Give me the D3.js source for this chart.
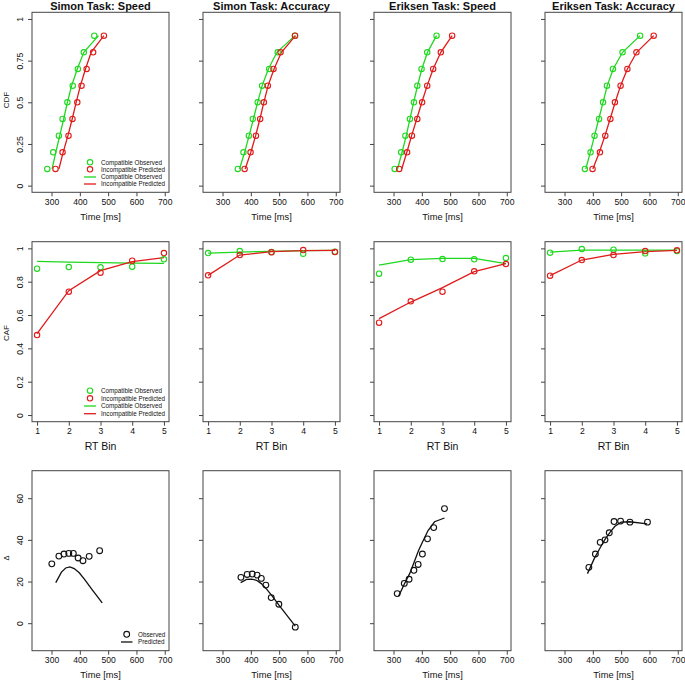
<!DOCTYPE html>
<html><head><meta charset="utf-8">
<script src="https://cdn.jsdelivr.net/npm/d3@7"></script>
<style>
body{margin:0;background:#fff;}
text{font-family:"Liberation Sans",Arial,Helvetica,sans-serif;fill:#111;}
</style>
</head><body><svg id="c" width="685" height="682"></svg>
<script>
// ---------------- data ----------------
const titles = ["Simon Task: Speed","Simon Task: Accuracy","Eriksen Task: Speed","Eriksen Task: Accuracy"];
const quantiles = [0.1,0.2,0.3,0.4,0.5,0.6,0.7,0.8,0.9];
const timeTicks = [300,400,500,600,700];
const cdfTicks = [0,0.25,0.5,0.75,1];
const cdfTickLabels = ["0","0.25","0.5","0.75","1"];
const cafTicks = [0,0.2,0.4,0.6,0.8,1];
const cafTickLabels = ["0","0.2","0.4","0.6","0.8","1"];
const rtBins = [1,2,3,4,5];
const deltaTicks = [0,20,40,60];

// CDF: RT (ms) at each quantile
const cdfCompObs = [
  [285,306,326,339,356,375,393,414,451],
  [354,374,393,407,424,440,465,495,556],
  [304,327,342,358,372,384,399,419,452],
  [372,392,406,422,436,450,471,505,567]
];
const cdfIncObs = [
  [314,339,360,374,391,406,424,447,485],
  [378,399,418,433,446,460,480,505,556],
  [320,348,365,384,401,419,440,467,507],
  [399,425,444,462,478,498,522,554,615]
];
const cdfCompPred = [
  [302,315,329,343,356,371,391,414,466],
  [360,378,394,409,424,440,462,492,556],
  [314,330,345,358,371,385,400,420,452],
  [375,391,406,421,436,451,472,505,567]
];
const cdfIncPred = [
  [326,341,358,373,387,402,420,440,485],
  [380,400,417,432,446,461,482,508,558],
  [329,347,364,382,400,419,440,467,507],
  [400,423,443,461,479,498,522,555,615]
];

// CAF: proportion correct per RT bin
const cafCompObs = [
  [0.878,0.888,0.886,0.890,0.934],
  [0.972,0.984,0.978,0.968,0.980],
  [0.848,0.932,0.936,0.934,0.942],
  [0.974,0.996,0.992,0.970,0.984]
];
const cafIncObs = [
  [0.480,0.740,0.854,0.926,0.972],
  [0.838,0.960,0.976,0.990,0.978],
  [0.554,0.682,0.740,0.862,0.906],
  [0.836,0.930,0.960,0.984,0.988]
];
const cafCompPred = [
  [0.922,0.918,0.915,0.912,0.910],
  [0.972,0.978,0.982,0.986,0.988],
  [0.900,0.932,0.940,0.940,0.908],
  [0.978,0.990,0.990,0.990,0.990]
];
const cafIncPred = [
  [0.488,0.746,0.866,0.920,0.944],
  [0.838,0.960,0.980,0.986,0.988],
  [0.578,0.678,0.764,0.860,0.908],
  [0.836,0.930,0.964,0.980,0.988]
];

// Delta plots: mean RT (ms) and effect (ms)
const deltaObsTime = [
  [301,326,344,361,377,394,411,433,470],
  [365,387,405,422,437,453,472,499,557],
  [313,338,355,372,387,402,420,442,480],
  [386,409,426,443,458,475,498,531,593]
];
const deltaObsEffect = [
  [28.5,32.2,33.2,33.5,33.5,31.3,30.0,32.1,34.8],
  [22.0,23.4,23.6,23.1,21.5,18.3,12.3,9.1,-1.9],
  [14.2,19.1,21.1,25.4,28.2,33.2,40.5,45.9,55.0],
  [26.8,33.2,38.8,40.0,43.4,48.8,49.0,48.5,48.5]
];
const deltaPredTime = [
  [315,335,350,365,380,398,418,442,479],
  [364,385,403,420,437,455,475,500,557],
  [318,340,357,372,388,404,422,445,480],
  [381,405,425,443,460,478,500,530,592]
];
const deltaPredEffect = [
  [19.5,24.5,26.5,27.0,26.2,24.2,20.8,16.4,9.8],
  [19.5,21.0,21.2,20.6,19.0,16.5,13.1,8.6,-1.4],
  [13.0,19.3,23.8,29.0,34.8,39.5,44.5,48.7,50.5],
  [23.8,31.0,36.0,40.2,43.5,46.5,48.5,48.7,47.7]
];

const legendCdfPoints = ["Compatible Observed","Incompatible Predicted"];
const legendCdfLines = ["Compatible Observed","Incompatible Predicted"];
const legendDelta = ["Observed","Predicted"];

// ---------------- layout ----------------
const GREEN = "#1ed81e", RED = "#e01a1a", BOX = "#444";
const svg = d3.select("#c");
const colLeft = i => 32 + i*171;
const panelW = 137, panelH = 180;
const rowTop = [12.3, 241.7, 470.7];
const R = 2.7;

function xTimeScale(i){ return d3.scaleLinear().domain([231,715]).range([colLeft(i), colLeft(i)+panelW]); }

function frame(i, row, x, y, xTicks, xFmt, yTicks, yLabels, xTitle, xTitleSize, xTitleOff){
  const g = svg.append("g");
  const top = rowTop[row], bottom = top + panelH, left = colLeft(i);
  // x axis
  const xa = g.append("g").attr("transform",`translate(0,${bottom})`)
    .call(d3.axisBottom(x).tickValues(xTicks).tickFormat(xFmt).tickSize(4).tickPadding(2.5));
  xa.select(".domain").remove();
  xa.selectAll("line").attr("stroke",BOX);
  xa.selectAll("text").attr("font-size","8.6px").attr("font-family","Liberation Sans, Arial, sans-serif").attr("fill","#111");
  // y axis
  const ya = g.append("g").attr("transform",`translate(${left},0)`)
    .call(d3.axisLeft(y).tickValues(yTicks).tickSize(4).tickFormat((d,k)=> yLabels ? yLabels[k] : ""));
  ya.select(".domain").remove();
  ya.selectAll("line").attr("stroke",BOX);
  ya.selectAll("text").attr("x",null).attr("dy",null)
    .attr("transform","translate(-8.6,0) rotate(-90)").attr("text-anchor","middle")
    .attr("font-size","8.6px").attr("font-family","Liberation Sans, Arial, sans-serif").attr("fill","#111");
  // box
  g.append("rect").attr("x",left).attr("y",top).attr("width",panelW).attr("height",panelH)
    .attr("fill","none").attr("stroke",BOX).attr("stroke-width",1);
  // x title
  g.append("text").attr("x",left+panelW/2).attr("y",bottom+xTitleOff).attr("text-anchor","middle")
    .attr("font-size",xTitleSize).text(xTitle);
}

function series(xs, ys, x, y, color, isLine){
  const pts = xs.map((v,k)=>[v, ys[k]]);
  if(isLine){
    svg.append("path").datum(pts).attr("fill","none").attr("stroke",color).attr("stroke-width",1.3)
      .attr("d", d3.line().x(d=>x(d[0])).y(d=>y(d[1])));
  } else {
    svg.append("g").selectAll("circle").data(pts).join("circle")
      .attr("cx",d=>x(d[0])).attr("cy",d=>y(d[1])).attr("r",R)
      .attr("fill","none").attr("stroke",color).attr("stroke-width",1.1);
  }
}

function legend4(x0, ys){
  const items = [
    {t:legendCdfPoints[0], c:GREEN, line:false},
    {t:legendCdfPoints[1], c:RED, line:false},
    {t:legendCdfLines[0], c:GREEN, line:true},
    {t:legendCdfLines[1], c:RED, line:true}
  ];
  items.forEach((it,k)=>{
    const yy = ys[k];
    if(it.line) svg.append("line").attr("x1",x0-6).attr("x2",x0+6).attr("y1",yy).attr("y2",yy).attr("stroke",it.c).attr("stroke-width",1.3);
    else svg.append("circle").attr("cx",x0).attr("cy",yy).attr("r",R).attr("fill","none").attr("stroke",it.c).attr("stroke-width",1.1);
    svg.append("text").attr("x",x0+11).attr("y",yy).attr("dy","0.35em").attr("font-size","6.3px").text(it.t);
  });
}

// ---------------- rows ----------------
for(let i=0;i<4;i++){
  // titles
  svg.append("text").attr("x",colLeft(i)+panelW/2).attr("y",9.6).attr("text-anchor","middle")
    .attr("font-size","11px").attr("font-weight","bold").text(titles[i]);

  // Row 1: CDF
  const x1 = xTimeScale(i);
  const y1 = d3.scaleLinear().domain([-0.04,1.04]).range([rowTop[0]+panelH,rowTop[0]]);
  frame(i,0,x1,y1,timeTicks,d3.format("d"),cdfTicks,i===0?cdfTickLabels:null,"Time [ms]","9.3px",27.5);
  series(cdfCompPred[i],quantiles,x1,y1,GREEN,true);
  series(cdfIncPred[i],quantiles,x1,y1,RED,true);
  series(cdfCompObs[i],quantiles,x1,y1,GREEN,false);
  series(cdfIncObs[i],quantiles,x1,y1,RED,false);

  // Row 2: CAF
  const x2 = d3.scaleLinear().domain([0.84,5.16]).range([colLeft(i),colLeft(i)+panelW]);
  const y2 = d3.scaleLinear().domain([-0.04,1.04]).range([rowTop[1]+panelH,rowTop[1]]);
  frame(i,1,x2,y2,rtBins,d3.format("d"),cafTicks,i===0?cafTickLabels:null,"RT Bin","10.5px",28);
  series(rtBins,cafCompPred[i],x2,y2,GREEN,true);
  series(rtBins,cafIncPred[i],x2,y2,RED,true);
  series(rtBins,cafCompObs[i],x2,y2,GREEN,false);
  series(rtBins,cafIncObs[i],x2,y2,RED,false);

  // Row 3: Delta
  const x3 = xTimeScale(i);
  const y3 = d3.scaleLinear().domain([-13.2,73.2]).range([rowTop[2]+panelH,rowTop[2]]);
  frame(i,2,x3,y3,timeTicks,d3.format("d"),deltaTicks,i===0?deltaTicks.map(String):null,"Time [ms]","9.3px",27.5);
  series(deltaPredTime[i],deltaPredEffect[i],x3,y3,"#111",true);
  svg.append("g").selectAll("circle").data(deltaObsTime[i].map((v,k)=>[v,deltaObsEffect[i][k]])).join("circle")
    .attr("cx",d=>x3(d[0])).attr("cy",d=>y3(d[1])).attr("r",2.9)
    .attr("fill","none").attr("stroke","#111").attr("stroke-width",1.1);
}

// y axis titles
[["CDF",100,"8px"],["CAF",333,"8px"],["Δ",558,"7.5px"]].forEach(([t,yy,fs])=>{
  svg.append("text").attr("transform",`translate(8.5,${yy}) rotate(-90)`).attr("text-anchor","middle")
    .attr("font-size",fs).text(t);
});

// legends
legend4(90,[162.3,169.3,177,184]);
legend4(90,[390.7,398.3,406,413.7]);
svg.append("circle").attr("cx",126.7).attr("cy",634.3).attr("r",2.9).attr("fill","none").attr("stroke","#111").attr("stroke-width",1.1);
svg.append("text").attr("x",138).attr("y",634.3).attr("dy","0.35em").attr("font-size","6.3px").text(legendDelta[0]);
svg.append("line").attr("x1",121).attr("x2",132.5).attr("y1",642).attr("y2",642).attr("stroke","#111").attr("stroke-width",1.3);
svg.append("text").attr("x",138).attr("y",642).attr("dy","0.35em").attr("font-size","6.3px").text(legendDelta[1]);
</script>
</body></html>
